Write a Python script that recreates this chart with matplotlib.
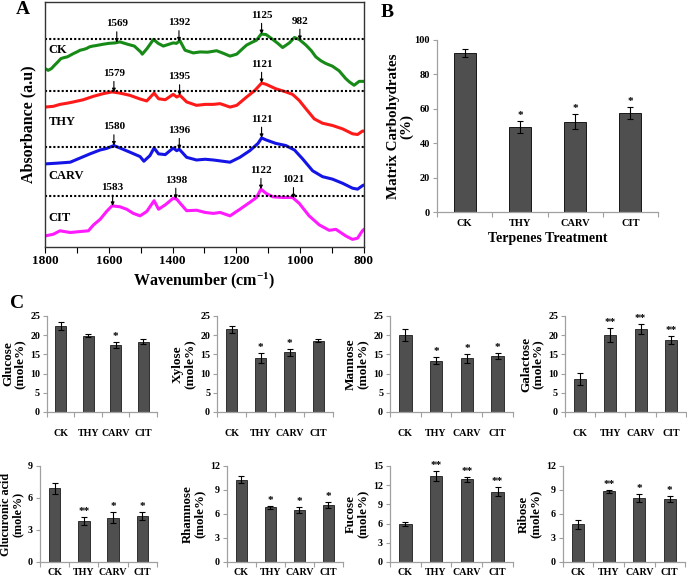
import matplotlib
matplotlib.use('Agg')
import matplotlib.pyplot as plt
import numpy as np
from matplotlib.ticker import MultipleLocator

plt.rcParams['font.family'] = ['Liberation Serif', 'DejaVu Serif']
plt.rcParams['font.weight'] = 'bold'
plt.rcParams['axes.labelweight'] = 'bold'
plt.rcParams['mathtext.fontset'] = 'custom'
plt.rcParams['mathtext.rm'] = 'Liberation Serif:bold'
plt.rcParams['mathtext.default'] = 'rm'

# ---- panel A: FTIR spectra (absorbance in arbitrary units, offset traces) ----
ck_wn = [1800, 1790, 1780, 1770, 1760, 1750, 1740, 1730, 1720, 1710, 1700, 1690, 1680, 1670, 1660,
         1650, 1640, 1620, 1600, 1580, 1565, 1540, 1520, 1500, 1495, 1480, 1460, 1445, 1429, 1410,
         1398, 1388, 1377, 1361, 1335, 1314, 1290, 1262, 1240, 1220, 1199, 1180, 1168, 1150, 1137,
         1122, 1107, 1086, 1070, 1055, 1034, 1018, 1003, 982, 965, 951, 935, 920, 899, 878, 857,
         845, 831, 815, 800]
ck_abs = [72.8, 72.1, 72.8, 74.2, 75.5, 76.9, 77.3, 77.6, 78.3, 79.0, 79.6, 80.3, 80.6, 81.0, 81.7,
          82.0, 82.2, 82.7, 83.1, 83.3, 83.7, 82.7, 82.0, 79.6, 78.7, 81.0, 84.7, 83.1, 82.0, 82.8,
          83.3, 83.1, 84.2, 80.3, 79.2, 79.6, 79.5, 80.1, 79.0, 77.9, 78.7, 81.0, 82.4, 83.6, 84.4,
          86.9, 86.7, 84.7, 83.1, 81.4, 83.3, 85.5, 84.7, 82.4, 80.1, 77.6, 76.0, 74.9, 73.8, 71.9, 68.7,
          67.3, 66.0, 67.6, 67.6]
thy_wn = [1800, 1774, 1753, 1730, 1711, 1680, 1648, 1617, 1590, 1565, 1534, 1502, 1481, 1458, 1444,
          1423, 1398, 1387, 1377, 1356, 1325, 1298, 1272, 1251, 1220, 1199, 1168, 1142, 1121, 1107,
          1077, 1045, 1024, 1003, 982, 956, 930, 899, 867, 836, 820, 805, 800]
thy_abs = [57.1, 57.4, 58.2, 58.7, 59.2, 60.1, 61.5, 62.6, 63.3, 62.8, 61.9, 60.4, 59.6, 62.8, 60.5,
           60.1, 62.3, 61.2, 61.9, 59.2, 57.8, 58.2, 58.2, 58.5, 57.1, 57.8, 61.2, 63.9, 66.9, 66.4,
           64.6, 63.3, 62.3, 59.8, 56.4, 52.3, 50.5, 49.6, 48.2, 46.2, 45.9, 47.3, 47.3]
carv_wn = [1800, 1763, 1721, 1690, 1659, 1627, 1607, 1584, 1565, 1534, 1502, 1490, 1471, 1458, 1444,
           1423, 1398, 1387, 1379, 1356, 1325, 1298, 1272, 1220, 1189, 1158, 1132, 1121, 1107, 1077,
           1045, 1018, 992, 961, 930, 899, 867, 836, 820, 805, 800]
carv_abs = [33.9, 34.2, 34.6, 36.3, 38.0, 39.6, 40.2, 41.4, 40.4, 38.7, 36.9, 35.0, 37.3, 40.4, 38.0,
            37.7, 40.4, 39.3, 39.9, 36.6, 35.5, 35.8, 35.5, 34.6, 36.6, 39.3, 42.3, 44.5, 43.7, 42.3,
            41.4, 39.6, 35.9, 31.1, 28.7, 27.7, 26.0, 24.0, 23.6, 25.0, 25.3]
cit_wn = [1800, 1774, 1753, 1721, 1690, 1664, 1648, 1627, 1607, 1590, 1565, 1544, 1523, 1502, 1481,
          1458, 1444, 1423, 1398, 1387, 1372, 1356, 1325, 1298, 1272, 1251, 1220, 1189, 1158, 1137,
          1123, 1107, 1086, 1055, 1024, 1003, 972, 940, 909, 888, 857, 836, 820, 805, 800]
cit_abs = [4.5, 5.2, 6.6, 5.9, 6.3, 6.6, 9.0, 11.3, 14.5, 16.8, 16.4, 15.4, 13.7, 12.7, 14.5,
           18.9, 15.4, 17.2, 19.9, 19.5, 17.2, 14.8, 15.0, 14.1, 13.7, 14.1, 12.7, 15.4, 18.2, 20.2,
           23.6, 21.9, 20.5, 20.2, 20.2, 17.8, 12.7, 9.0, 6.8, 7.2, 4.5, 3.1, 3.6, 6.6, 7.2]

spec_names = ['CK', 'THY', 'CARV', 'CIT']
spec_colors = ['#178a17', '#ff1a1a', '#1414e6', '#ff1aff']
baseline_levels = [84.7, 63.7, 41.0, 20.8]
name_levels = [80.5, 51.2, 29.1, 11.7]
peak_labels = [['1569', '1392', '1125', '982'],
               ['1579', '1395', '1121'],
               ['1580', '1396', '1121'],
               ['1583', '1398', '1122', '1021']]
peak_marks = [[1575, 1380, 1121, 1001],
              [1584, 1378, 1121],
              [1584, 1379, 1121],
              [1588, 1390, 1123, 1021]]

# ---- panel B: matrix carbohydrates ----
treatments = ['CK', 'THY', 'CARV', 'CIT']
matrix_carb = [92.5, 49.5, 52.5, 57.5]
matrix_err = [2.5, 3.5, 4.3, 3.5]
matrix_sig = ['', '*', '*', '*']

# ---- panel C: monosaccharide composition (mole%) ----
sugars = ['Glucose', 'Xylose', 'Mannose', 'Galactose',
          'Glucuronic acid', 'Rhamnose', 'Fucose', 'Ribose']
sugar_vals = [[22.4, 19.9, 17.5, 18.3],
              [21.5, 14.0, 15.5, 18.6],
              [20.0, 13.4, 14.0, 14.6],
              [8.6, 20.0, 21.7, 18.7],
              [6.9, 3.85, 4.15, 4.3],
              [10.3, 6.85, 6.5, 7.1],
              [5.9, 13.4, 12.9, 11.0],
              [4.7, 8.85, 8.0, 7.85]]
sugar_errs = [[1.1, 0.5, 0.8, 0.6],
              [0.9, 1.3, 0.8, 0.4],
              [1.5, 1.0, 1.2, 0.8],
              [1.5, 1.8, 1.3, 1.1],
              [0.5, 0.35, 0.5, 0.4],
              [0.45, 0.2, 0.33, 0.4],
              [0.3, 0.8, 0.4, 0.75],
              [0.6, 0.2, 0.55, 0.37]]
sugar_sig = [['', '', '*', ''],
             ['', '*', '*', ''],
             ['', '*', '*', '*'],
             ['', '**', '**', '**'],
             ['', '**', '*', '*'],
             ['', '*', '*', '*'],
             ['', '**', '**', '**'],
             ['', '**', '*', '*']]
sugar_ymax = [25, 25, 25, 25, 9, 12, 15, 12]
sugar_step = [5, 5, 5, 5, 3, 3, 3, 3]

bar_color = '#4f4f4f'
axis_gray = '#a0a0a0'

fig = plt.figure(figsize=(6.87, 5.78), dpi=100)

# ================= A =================
axa = fig.add_axes([0.0655, 0.5727, 0.4643, 0.4239])
spectra = [(ck_wn, ck_abs), (thy_wn, thy_abs), (carv_wn, carv_abs), (cit_wn, cit_abs)]
for k, (wn, ab) in enumerate(spectra):
    axa.plot(wn, ab, color=spec_colors[k], lw=2.2, solid_capstyle='round')
    axa.axhline(baseline_levels[k], color='black', lw=1.5, ls=(0, (1.0, 1.0)))
    axa.text(1788, name_levels[k], spec_names[k], fontsize=9, ha='left', va='center')
    wn_up = np.array(wn)[::-1]
    ab_up = np.array(ab)[::-1]
    for lab, pos in zip(peak_labels[k], peak_marks[k]):
        tip = np.interp(pos, wn_up, ab_up)
        axa.annotate(lab, xy=(pos, tip), xytext=(pos, tip + 5.8), fontsize=8,
                     ha='center', va='bottom',
                     arrowprops=dict(arrowstyle='-|>', color='black', lw=0.8,
                                     mutation_scale=5, shrinkA=0.5, shrinkB=0))
axa.set_xlim(1800, 800)
axa.set_ylim(0, 100)
axa.set_yticks([])
axa.xaxis.set_major_locator(MultipleLocator(200))
axa.xaxis.set_minor_locator(MultipleLocator(100))
axa.tick_params(axis='x', which='both', direction='out', length=4, width=0.8, labelsize=9.5, pad=2)
for sp in axa.spines.values():
    sp.set_color('#333333')
    sp.set_linewidth(1.0)
axa.set_xlabel('Wavenumber (cm$^{-1}$)', fontsize=11.5, labelpad=2)
axa.set_ylabel('Absorbance (a.u)', fontsize=11.5, labelpad=6)


def style_bar_axes(ax, n, ymax, step, tick_size, xpad):
    ax.set_xlim(-0.5, n - 0.5)
    ax.set_ylim(0, ymax)
    ax.set_yticks(np.arange(0, ymax + 0.01, step))
    ax.set_xticks(np.arange(n))
    ax.set_xticks(np.arange(-0.5, n, 1.0), minor=True)
    ax.set_xticklabels(treatments, fontsize=tick_size)
    ax.tick_params(axis='x', which='major', length=0, pad=xpad)
    ax.tick_params(axis='x', which='minor', length=3.5, direction='out', color=axis_gray, width=0.8)
    ax.tick_params(axis='y', length=3, direction='out', color=axis_gray, width=0.8,
                   labelsize=tick_size, pad=2)
    for s in ['top', 'right']:
        ax.spines[s].set_visible(False)
    for s in ['left', 'bottom']:
        ax.spines[s].set_color(axis_gray)
        ax.spines[s].set_linewidth(0.9)


# ================= B =================
axb = fig.add_axes([0.6361, 0.6332, 0.3217, 0.2976])
xb = np.arange(len(treatments))
axb.bar(xb, matrix_carb, width=0.4, color=bar_color, edgecolor='black', linewidth=0.6,
        yerr=matrix_err, capsize=2.2, error_kw=dict(elinewidth=0.8, capthick=0.8, ecolor='black'))
for i, s in enumerate(matrix_sig):
    if s:
        axb.text(xb[i], matrix_carb[i] + matrix_err[i] + 0.5, s, ha='center', va='bottom', fontsize=8)
style_bar_axes(axb, len(treatments), 100, 20, 7.5, 5)
axb.set_xlabel('Terpenes Treatment', fontsize=10, labelpad=3)
axb.set_ylabel('Matrix Carbohydrates\n(%)', fontsize=10.8, labelpad=1, linespacing=1.0)

# ================= C =================
c_boxes = [[0.0684, 0.2872, 0.1601, 0.1661],
           [0.3159, 0.2872, 0.1688, 0.1661],
           [0.5677, 0.2872, 0.1790, 0.1661],
           [0.8224, 0.2872, 0.1761, 0.1661],
           [0.0582, 0.0277, 0.1703, 0.1661],
           [0.3304, 0.0277, 0.1688, 0.1661],
           [0.5677, 0.0277, 0.1790, 0.1661],
           [0.8195, 0.0277, 0.1776, 0.1661]]
c_label_size = [9.5, 9.5, 9.5, 9.5, 8.7, 9.3, 9.3, 9.3]
c_xpad = [12, 12, 12, 12, 4.5, 4.5, 4.5, 4.5]
for j, name in enumerate(sugars):
    ax = fig.add_axes(c_boxes[j])
    x = np.arange(len(treatments))
    ax.bar(x, sugar_vals[j], width=0.4, color=bar_color, edgecolor='black', linewidth=0.5,
           yerr=sugar_errs[j], capsize=2.0,
           error_kw=dict(elinewidth=0.8, capthick=0.8, ecolor='black'))
    for i, s in enumerate(sugar_sig[j]):
        if s:
            ax.text(x[i], sugar_vals[j][i] + sugar_errs[j][i] + sugar_ymax[j] * 0.01, s,
                    ha='center', va='bottom', fontsize=8)
    style_bar_axes(ax, len(treatments), sugar_ymax[j], sugar_step[j], 7.2, c_xpad[j])
    ax.set_ylabel(name + '\n(mole%)', fontsize=c_label_size[j], labelpad=3, linespacing=1.0)

fig.text(0.033, 0.983, 'A', fontsize=14, fontweight='bold', ha='center', va='center')
fig.text(0.563, 0.979, 'B', fontsize=14, fontweight='bold', ha='center', va='center')
fig.text(0.025, 0.475, 'C', fontsize=14, fontweight='bold', ha='center', va='center')

fig.savefig('out.png', dpi=100)
